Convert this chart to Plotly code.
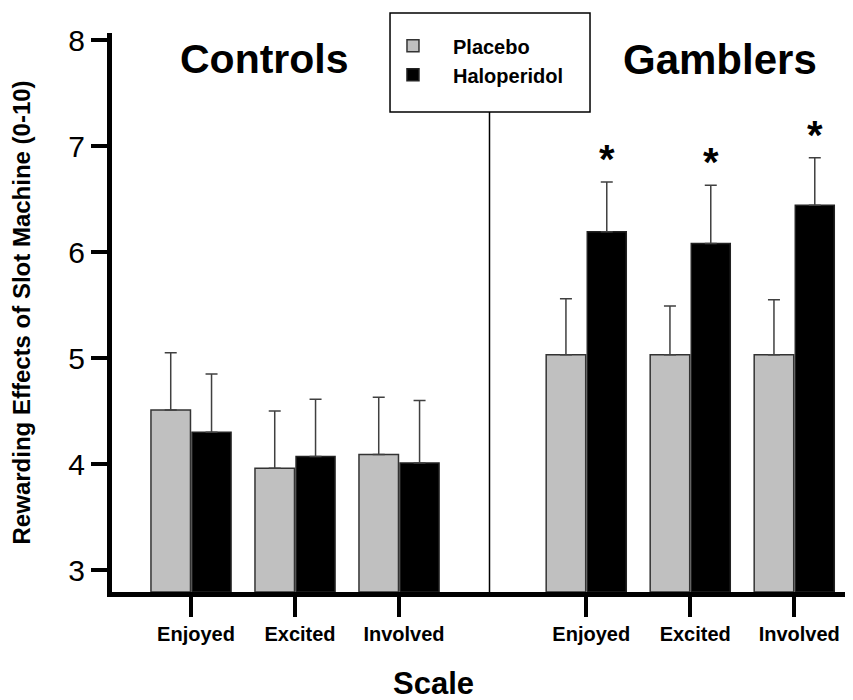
import plotly.graph_objects as go

# ---- data ----
scales = ["Enjoyed", "Excited", "Involved", "Enjoyed", "Excited", "Involved"]
groups = ["Controls", "Gamblers"]
x_pos = [0, 1, 2, 3.8, 4.8, 5.8]
placebo = [4.51, 3.96, 4.09, 5.03, 5.03, 5.03]
placebo_err = [0.54, 0.54, 0.54, 0.53, 0.46, 0.52]
haloperidol = [4.30, 4.07, 4.01, 6.19, 6.08, 6.44]
haloperidol_err = [0.55, 0.54, 0.59, 0.47, 0.55, 0.45]
significant = [False, False, False, True, True, True]
y_ticks = [3, 4, 5, 6, 7, 8]

y_min, y_max = 2.7925, 8.066
FONT = "Arial, Liberation Sans, Helvetica, sans-serif"

fig = go.Figure()
fig.add_trace(go.Bar(
    name="<b>Placebo</b>", x=x_pos, y=[v - y_min for v in placebo], base=y_min,
    width=0.38, offset=-0.385,
    marker=dict(color="#c0c0c0", line=dict(color="#333333", width=1.5)),
    error_y=dict(type="data", symmetric=False, array=placebo_err,
                 arrayminus=[0] * len(placebo), color="#404040",
                 thickness=1.5, width=6),
))
fig.add_trace(go.Bar(
    name="<b>Haloperidol</b>", x=x_pos, y=[v - y_min for v in haloperidol], base=y_min,
    width=0.375, offset=0.01,
    marker=dict(color="#000000", line=dict(color="#222222", width=1.5)),
    error_y=dict(type="data", symmetric=False, array=haloperidol_err,
                 arrayminus=[0] * len(haloperidol), color="#404040",
                 thickness=1.5, width=6),
))

annotations = []
for xp, v, e, s in zip(x_pos, haloperidol, haloperidol_err, significant):
    if s:
        annotations.append(dict(x=xp + 0.2, y=v + e, xref="x", yref="y",
                                text="<b>*</b>", showarrow=False,
                                xanchor="center", yanchor="bottom", yshift=-1,
                                font=dict(size=40, color="black", family=FONT)))

annotations += [
    dict(x=0.71, y=7.82, xref="x", yref="y", text="<b>%s</b>" % groups[0],
         showarrow=False, xanchor="center", yanchor="middle",
         font=dict(size=41, color="black", family=FONT)),
    dict(x=5.09, y=7.82, xref="x", yref="y", text="<b>%s</b>" % groups[1],
         showarrow=False, xanchor="center", yanchor="middle",
         font=dict(size=42, color="black", family=FONT)),
    dict(x=0.4332, y=-0.163, xref="paper", yref="paper", text="<b>Scale</b>",
         showarrow=False, xanchor="center", yanchor="middle",
         font=dict(size=31, color="black", family=FONT)),
    dict(x=-0.1215, y=0.5, xref="paper", yref="paper", textangle=-90,
         text="<b>Rewarding Effects of Slot Machine (0-10)</b>",
         showarrow=False, xanchor="center", yanchor="middle",
         font=dict(size=24, color="black", family=FONT)),
]

# the page body adds an 8px offset, so the figure is 8px smaller on each side
fig.update_layout(
    width=845, height=692,
    margin=dict(l=104, r=0, t=25, b=108, autoexpand=False),
    paper_bgcolor="white", plot_bgcolor="white",
    barmode="overlay",
    showlegend=True,
    legend=dict(x=0.3522, y=1.012, xanchor="left", yanchor="top",
                bgcolor="rgba(0,0,0,0)", borderwidth=0, tracegroupgap=0,
                itemwidth=70,
                font=dict(size=20, color="black", family=FONT)),
    annotations=annotations,
    shapes=[
        dict(type="rect", xref="paper", yref="paper", x0=0.3752, x1=0.6451,
             y0=0.8587, y1=1.0358, line=dict(color="black", width=1.5),
             fillcolor="rgba(0,0,0,0)", layer="above"),
        dict(type="line", xref="x", yref="paper", x0=2.87, x1=2.87,
             y0=0, y1=0.8587, line=dict(color="black", width=1.5)),
    ],
    font=dict(family=FONT, color="black"),
)
fig.update_xaxes(range=[-0.7596, 6.365], tickvals=x_pos,
                 ticktext=["<b>%s</b>" % s for s in scales],
                 ticks="outside", ticklen=20, tickwidth=4, tickcolor="black",
                 ticklabelshift=5, automargin=False,
                 tickfont=dict(size=20, color="black", family=FONT),
                 showline=True, linewidth=5, linecolor="black",
                 showgrid=False, zeroline=False, fixedrange=True)
fig.update_yaxes(range=[y_min, y_max], tickvals=y_ticks,
                 ticks="outside", ticklen=16, tickwidth=4, tickcolor="black",
                 automargin=False,
                 tickfont=dict(size=30, color="black", family=FONT),
                 showline=True, linewidth=5, linecolor="black",
                 showgrid=False, zeroline=False, fixedrange=True)

fig.write_html("out.html")
